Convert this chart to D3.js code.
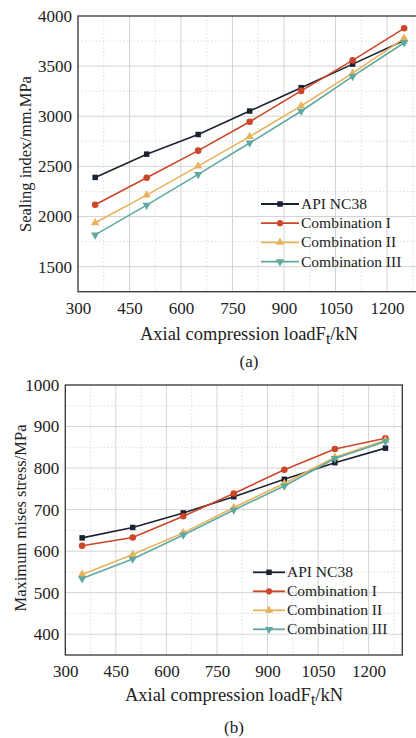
<!DOCTYPE html>
<html>
<head>
<meta charset="utf-8">
<script src="https://cdn.jsdelivr.net/npm/d3@7"></script>
<style>
  body { margin: 0; background: #fff; }
  svg text { font-family: "Liberation Serif", "DejaVu Serif", serif; }
</style>
</head>
<body>
<svg width="416" height="738"></svg>
<script>
// Data
var loads = [350, 500, 650, 800, 950, 1100, 1250];
var seriesNames = ["API NC38", "Combination I", "Combination II", "Combination III"];
var colors = ["#1b2230", "#cc4628", "#e6b25c", "#5fa9a0"];
var shapes = ["square", "circle", "triangle", "triangleDown"];

// (a) sealing index
var sealApi = [2390, 2622, 2818, 3052, 3285, 3520, 3755];
var sealC1 = [2117, 2387, 2657, 2945, 3253, 3557, 3877];
var sealC2 = [1937, 2213, 2503, 2797, 3103, 3430, 3777];
var sealC3 = [1817, 2113, 2420, 2733, 3050, 3397, 3733];

// (b) maximum mises stress
var stressApi = [632, 657, 692, 731, 773, 813, 848];
var stressC1 = [613, 633, 684, 739, 796, 846, 872];
var stressC2 = [544, 592, 644, 705, 763, 826, 867];
var stressC3 = [534, 581, 639, 699, 757, 823, 864];

var xTicks = [300, 450, 600, 750, 900, 1050, 1200];
var sealTicks = [1500, 2000, 2500, 3000, 3500, 4000];
var stressTicks = [400, 500, 600, 700, 800, 900, 1000];

var svg = d3.select("svg");

var symbolType = {
  square: d3.symbolSquare,
  circle: d3.symbolCircle,
  triangle: d3.symbolTriangle,
  triangleDown: d3.symbolTriangle
};

function drawPanel(cfg) {
  var x = d3.scaleLinear().domain([300, 1300]).range([cfg.left, cfg.right]);
  var y = d3.scaleLinear().domain(cfg.yDomain).range([cfg.bottom, cfg.top]);
  var g = svg.append("g");

  // minor grid (dotted)
  var xMinor = d3.range(375, 1300, 150);
  var yStep = cfg.yTicks[1] - cfg.yTicks[0];
  var yMinor = d3.range(cfg.yTicks[0] - yStep / 2, cfg.yDomain[1], yStep).filter(function(v){ return v > cfg.yDomain[0]; });
  g.selectAll(".xm").data(xMinor).enter().append("line")
    .attr("x1", x).attr("x2", x).attr("y1", cfg.top).attr("y2", cfg.bottom)
    .attr("stroke", "#d6d6d6").attr("stroke-dasharray", "1.5,2").attr("stroke-width", 0.8);
  g.selectAll(".ym").data(yMinor).enter().append("line")
    .attr("x1", cfg.left).attr("x2", cfg.right).attr("y1", y).attr("y2", y)
    .attr("stroke", "#d6d6d6").attr("stroke-dasharray", "1.5,2").attr("stroke-width", 0.8);

  // major grid
  g.selectAll(".xg").data(xTicks.slice(1)).enter().append("line")
    .attr("x1", x).attr("x2", x).attr("y1", cfg.top).attr("y2", cfg.bottom)
    .attr("stroke", "#cfcfcf").attr("stroke-width", 0.9);
  g.selectAll(".yg").data(cfg.yTicks.filter(function(v){ return v < cfg.yDomain[1]; })).enter().append("line")
    .attr("x1", cfg.left).attr("x2", cfg.right).attr("y1", y).attr("y2", y)
    .attr("stroke", "#cfcfcf").attr("stroke-width", 0.9);

  // frame
  g.append("rect")
    .attr("x", cfg.left).attr("y", cfg.top)
    .attr("width", cfg.right - cfg.left).attr("height", cfg.bottom - cfg.top)
    .attr("fill", "none").attr("stroke", "#333").attr("stroke-width", 1.3);

  // axes labels
  var xAxis = d3.axisBottom(x).tickValues(xTicks).tickFormat(d3.format("d")).tickSize(0).tickPadding(10);
  var xa = g.append("g").attr("transform", "translate(0," + cfg.bottom + ")").call(xAxis)
    .attr("font-family", null).attr("font-size", 17);
  xa.select(".domain").remove();
  xa.selectAll("text").attr("fill", "#222");

  var yAxis = d3.axisLeft(y).tickValues(cfg.yTicks).tickFormat(d3.format("d")).tickSize(0).tickPadding(6);
  var ya = g.append("g").attr("transform", "translate(" + cfg.left + ",0)").call(yAxis)
    .attr("font-family", null).attr("font-size", 17);
  ya.select(".domain").remove();
  ya.selectAll("text").attr("fill", "#222");

  // series
  var line = d3.line().x(function(d, i){ return x(loads[i]); }).y(function(d){ return y(d); });
  cfg.series.forEach(function(vals, s) {
    g.append("path").datum(vals)
      .attr("d", line).attr("fill", "none")
      .attr("stroke", colors[s]).attr("stroke-width", 1.6);
    g.selectAll(".pt" + s).data(vals).enter().append("path")
      .attr("d", d3.symbol().type(symbolType[shapes[s]]).size(s == 1 ? 34 : 30))
      .attr("transform", function(d, i){
        return "translate(" + x(loads[i]) + "," + y(d) + ")" + (shapes[s] == "triangleDown" ? " rotate(180)" : "");
      })
      .attr("fill", colors[s]);
  });

  // legend
  var lg = g.append("g");
  seriesNames.forEach(function(name, s) {
    var ly = cfg.legY + s * cfg.legGap;
    lg.append("line").attr("x1", cfg.legX).attr("x2", cfg.legX + cfg.legLen)
      .attr("y1", ly).attr("y2", ly).attr("stroke", colors[s]).attr("stroke-width", 1.8);
    lg.append("path")
      .attr("d", d3.symbol().type(symbolType[shapes[s]]).size(30))
      .attr("transform", "translate(" + (cfg.legX + cfg.legLen / 2) + "," + ly + ")" + (shapes[s] == "triangleDown" ? " rotate(180)" : ""))
      .attr("fill", colors[s]);
    lg.append("text").attr("x", cfg.legX + cfg.legLen + 2).attr("y", ly + 5)
      .attr("font-size", 15.5).attr("fill", "#222").text(name);
  });

  // y title
  g.append("text")
    .attr("transform", "translate(" + cfg.yTitleX + "," + cfg.yTitleY + ") rotate(-90)")
    .attr("text-anchor", "middle").attr("font-size", 16.5).attr("fill", "#222")
    .text(cfg.yTitle);

  // x title with subscript
  var xt = g.append("text").attr("x", cfg.xTitleX).attr("y", cfg.xTitleY)
    .attr("text-anchor", "middle").attr("font-size", 18.5).attr("fill", "#222");
  xt.append("tspan").text("Axial compression loadF");
  xt.append("tspan").attr("dy", 4).attr("font-size", 16).text("t");
  xt.append("tspan").attr("dy", -4).text("/kN");

  g.append("text").attr("x", cfg.xTitleX).attr("y", cfg.capY)
    .attr("text-anchor", "middle").attr("font-size", 17).attr("fill", "#222")
    .text(cfg.caption);
}

drawPanel({
  left: 78, right: 421.3, top: 16, bottom: 291.7,
  yDomain: [1250, 4000], yTicks: sealTicks,
  series: [sealApi, sealC1, sealC2, sealC3],
  legX: 261, legLen: 38, legY: 204, legGap: 19.2,
  yTitle: "Sealing index/mm.MPa", yTitleX: 31, yTitleY: 154,
  xTitleX: 249, xTitleY: 340, capY: 367, caption: "(a)"
});

drawPanel({
  left: 65.3, right: 402.3, top: 385, bottom: 655,
  yDomain: [350, 1000], yTicks: stressTicks,
  series: [stressApi, stressC1, stressC2, stressC3],
  legX: 253, legLen: 32, legY: 572.3, legGap: 19,
  yTitle: "Maximum mises stress/MPa", yTitleX: 26, yTitleY: 518,
  xTitleX: 234, xTitleY: 701, capY: 733, caption: "(b)"
});
</script>
</body>
</html>
